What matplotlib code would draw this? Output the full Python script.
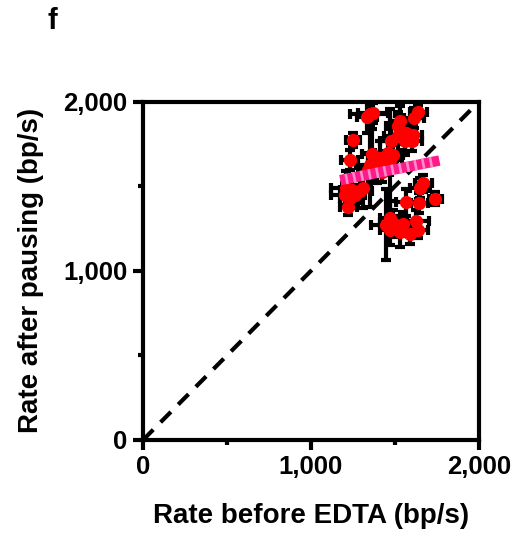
import numpy as np
import matplotlib.pyplot as plt

plt.rcParams['font.family'] = ['Liberation Sans', 'DejaVu Sans']
plt.rcParams['font.weight'] = 'bold'

rate_before = [1351, 1335, 1371, 1639, 1613, 1530, 1520, 1252, 1516, 1480,
               1569, 1609, 1559, 1604, 1232, 1367, 1411, 1460, 1490, 1470,
               1440, 1351, 1341, 1391, 1421, 1669, 1649, 1212, 1242, 1202,
               1262, 1311, 1292, 1232, 1222, 1569, 1645, 1742, 1470, 1450,
               1490, 1470, 1550, 1625, 1639, 1530, 1589]
rate_after = [1929, 1913, 1933, 1943, 1903, 1884, 1858, 1775, 1799, 1771,
              1815, 1805, 1767, 1767, 1657, 1690, 1667, 1696, 1686, 1657,
              1637, 1627, 1598, 1598, 1588, 1519, 1490, 1490, 1479, 1450,
              1450, 1490, 1470, 1430, 1381, 1405, 1400, 1428, 1312, 1272,
              1282, 1243, 1278, 1298, 1243, 1233, 1219]
xerr = [120, 60, 90, 50, 60, 60, 70, 40, 80, 70,
        60, 50, 70, 60, 50, 60, 70, 80, 60, 70,
        70, 80, 60, 70, 60, 50, 60, 90, 70, 80,
        60, 50, 70, 60, 50, 60, 50, 40, 60, 90,
        80, 60, 70, 80, 60, 70, 60]
yerr = [80, 100, 60, 40, 60, 90, 80, 40, 120, 100,
        60, 50, 80, 60, 60, 150, 100, 80, 60, 300,
        70, 250, 100, 80, 60, 50, 60, 100, 80, 70,
        60, 120, 70, 60, 50, 80, 60, 40, 100, 210,
        80, 90, 70, 60, 50, 90, 60]

fit_x = [1205, 1735]
fit_y = [1543, 1647]

fig = plt.figure(figsize=(5.19, 5.35), dpi=100)
ax = fig.add_axes([0.2755, 0.1776, 0.647, 0.632])

ax.plot([0, 2000], [0, 2000], color='black', lw=3, ls=(0, (3.5, 2.5)), zorder=1)

ax.errorbar(rate_before, rate_after, xerr=xerr, yerr=yerr, fmt='none',
            ecolor='black', elinewidth=3, capsize=3.5, capthick=3, zorder=2)
ax.plot(rate_before, rate_after, 'o', color='red', ms=8.5, mec='red', zorder=3)

ax.plot(fit_x, fit_y, color='#ff1a8c', lw=7.5, zorder=4)
ax.plot(fit_x, fit_y, color='#ff8cc6', lw=7.5, ls=(0, (0.25, 0.5)), zorder=5)

ax.set_xlim(0, 2000)
ax.set_ylim(0, 2000)
ax.set_xticks([0, 1000, 2000])
ax.set_yticks([0, 1000, 2000])
ax.set_xticklabels(['0', '1,000', '2,000'])
ax.set_yticklabels(['0', '1,000', '2,000'])
ax.set_xticks([500, 1500], minor=True)
ax.set_yticks([500, 1500], minor=True)

for s in ['top', 'right', 'left', 'bottom']:
    ax.spines[s].set_linewidth(3)
ax.tick_params(which='major', direction='out', length=7, width=3, labelsize=18.5, pad=4)
ax.tick_params(which='minor', direction='out', length=3.5, width=3)

ax.set_xlabel('Rate before EDTA (bp/s)', fontsize=20, fontweight='bold', labelpad=17)
ax.set_ylabel('Rate after pausing (bp/s)', fontsize=20, fontweight='bold', labelpad=14)

fig.text(0.092, 0.945, 'f', fontsize=21, fontweight='bold')

fig.savefig('out.png', dpi=100)
